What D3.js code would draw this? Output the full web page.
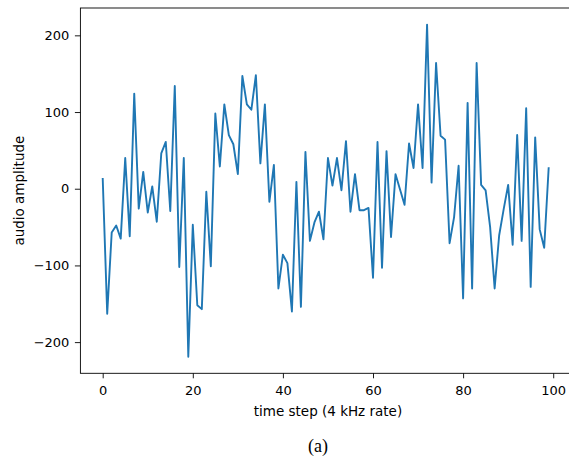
<!DOCTYPE html>
<html>
<head>
<meta charset="utf-8">
<script src="https://cdn.jsdelivr.net/npm/d3@7"></script>
<style>
  body { margin: 0; background: #fff; }
  text { font-family: "DejaVu Sans", sans-serif; }
</style>
</head>
<body>
<svg id="chart"></svg>
<script>
// audio samples, one per time step
const amplitude = [
  14, -163, -57, -48, -65, 40, -62, 124, -26, 22,
  -31, 3, -43, 46, 61, -29, 134, -102, 40, -219,
  -47, -152, -157, -4, -101, 98, 29, 110, 70, 58,
  19, 147, 110, 103, 148, 33, 110, -17, 31, -130,
  -86, -97, -160, 9, -154, 48, -68, -44, -30, -66,
  40, 4, 40, -2, 62, -30, 19, -28, -28, -25,
  -116, 61, -103, 49, -63, 19, -1, -21, 59, 27,
  110, 27, 214, 8, 164, 69, 64, -71, -37, 30,
  -143, 112, -130, 164, 5, -2, -50, -130, -61, -27,
  5, -73, 70, -68, 105, -128, 67, -53, -77, 28
];
const xTicks = [0, 20, 40, 60, 80, 100];
const yTicks = [-200, -100, 0, 100, 200];
const xLabel = "time step (4 kHz rate)";
const yLabel = "audio amplitude";
const caption = "(a)";

const W = 569, H = 457;
const mLeft = 80.4, mRight = 571, mTop = 8, mBottom = 373.3;

const svg = d3.select("#chart")
  .attr("width", W)
  .attr("height", H)
  .attr("viewBox", [0, 0, W, H]);

// matplotlib style 5% margins
const n = amplitude.length;
const xpad = (n - 1) * 0.05;
const x = d3.scaleLinear()
  .domain([-xpad, n - 1 + xpad])
  .range([mLeft, mRight]);

const [ymin, ymax] = d3.extent(amplitude);
const ypad = (ymax - ymin) * 0.05;
const y = d3.scaleLinear()
  .domain([ymin - ypad, ymax + ypad])
  .range([mBottom, mTop]);

const line = d3.line()
  .x((d, i) => x(i))
  .y(d => y(d));

svg.append("path")
  .datum(amplitude)
  .attr("fill", "none")
  .attr("stroke", "#1f77b4")
  .attr("stroke-width", 1.9)
  .attr("stroke-linejoin", "round")
  .attr("d", line);

const gx = svg.append("g")
  .attr("transform", `translate(0,${mBottom})`)
  .call(d3.axisBottom(x).tickValues(xTicks).tickSize(5).tickPadding(7));

const gy = svg.append("g")
  .attr("transform", `translate(${mLeft},0)`)
  .call(d3.axisLeft(y).tickValues(yTicks).tickSize(5.5).tickPadding(5.5));

[gx, gy].forEach(g => {
  g.select(".domain").remove();
  g.selectAll("line").attr("stroke", "#000").attr("stroke-width", 0.9);
  g.selectAll("text")
    .attr("fill", "#000")
    .style("font-size", "13px")
    .style("font-family", "DejaVu Sans, sans-serif");
});

// frame
svg.append("rect")
  .attr("x", mLeft)
  .attr("y", mTop)
  .attr("width", mRight - mLeft)
  .attr("height", mBottom - mTop)
  .attr("fill", "none")
  .attr("stroke", "#000")
  .attr("stroke-width", 0.9);

svg.append("text")
  .attr("x", x(50))
  .attr("y", 416)
  .attr("text-anchor", "middle")
  .style("font-size", "13.5px")
  .text(xLabel);

svg.append("text")
  .attr("transform", `translate(24,${(mTop + mBottom) / 2}) rotate(-90)`)
  .attr("text-anchor", "middle")
  .style("font-size", "13.5px")
  .text(yLabel);

svg.append("text")
  .attr("x", 318)
  .attr("y", 452)
  .attr("text-anchor", "middle")
  .style("font-family", "Liberation Serif, serif")
  .style("font-size", "18px")
  .text(caption);
</script>
</body>
</html>
